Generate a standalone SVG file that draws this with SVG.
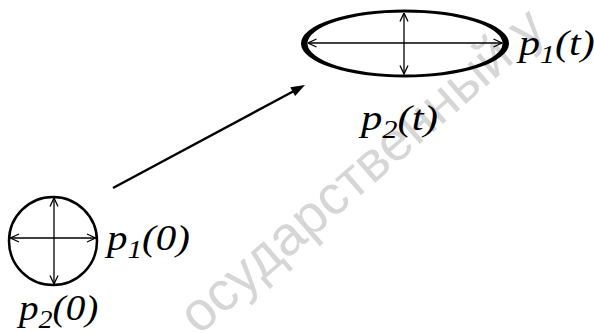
<svg xmlns="http://www.w3.org/2000/svg" width="594" height="333" viewBox="0 0 594 333">
<style>
.lbl{font-family:"Liberation Serif","Times New Roman",Tinos,serif;font-style:italic;font-size:35px;fill:#000}
.sub{font-size:25px}
.dbl{stroke:#000;stroke-width:1.3;fill:none;marker-start:url(#v);marker-end:url(#v)}
.wm{font-family:"Liberation Sans",Arial,sans-serif;font-size:55px;fill:#d6d6d6}
</style>
<defs>
<marker id="v" viewBox="0 0 10 10" refX="9.5" refY="5" markerWidth="10" markerHeight="10" markerUnits="userSpaceOnUse" orient="auto-start-reverse">
<path d="M1,1 L9.5,5 L1,9" fill="none" stroke="#000" stroke-width="1.3"/>
</marker>
</defs>
<text class="wm" transform="translate(199,336) rotate(-41)">осударственный у</text>
<g id="initial">
<circle cx="53" cy="241" r="44" fill="none" stroke="#000" stroke-width="2.5"/>
<line class="dbl" x1="10.5" y1="238" x2="95.5" y2="238"/>
<line class="dbl" x1="54" y1="198" x2="54" y2="284"/>
<text class="lbl" transform="translate(107,250) scale(1.17,1)">p<tspan class="sub" dy="8">1</tspan><tspan dy="-8">(0)</tspan></text>
<text class="lbl" transform="translate(19,320) scale(1.12,1)">p<tspan class="sub" dy="8">2</tspan><tspan dy="-8">(0)</tspan></text>
</g>
<g id="final">
<path d="M301,43.5 a104,34 0 1,0 208,0 a104,34 0 1,0 -208,0 Z M307.5,43.5 a97.5,31 0 1,0 195,0 a97.5,31 0 1,0 -195,0 Z" fill="#000" fill-rule="evenodd"/>
<line class="dbl" x1="308" y1="43" x2="502" y2="43"/>
<line class="dbl" x1="404" y1="13" x2="404" y2="74"/>
<text class="lbl" transform="translate(519,55) scale(1.2,1)">p<tspan class="sub" dy="8">1</tspan><tspan dy="-8">(t)</tspan></text>
<text class="lbl" transform="translate(361,130) scale(1.22,1)">p<tspan class="sub" dy="8">2</tspan><tspan dy="-8">(t)</tspan></text>
</g>
<g id="connectors">
<line x1="113" y1="188" x2="293" y2="91.5" stroke="#000" stroke-width="2.5"/>
<polygon points="305,85 295.1,96 290.3,87.2" fill="#000"/>
</g>
</svg>
